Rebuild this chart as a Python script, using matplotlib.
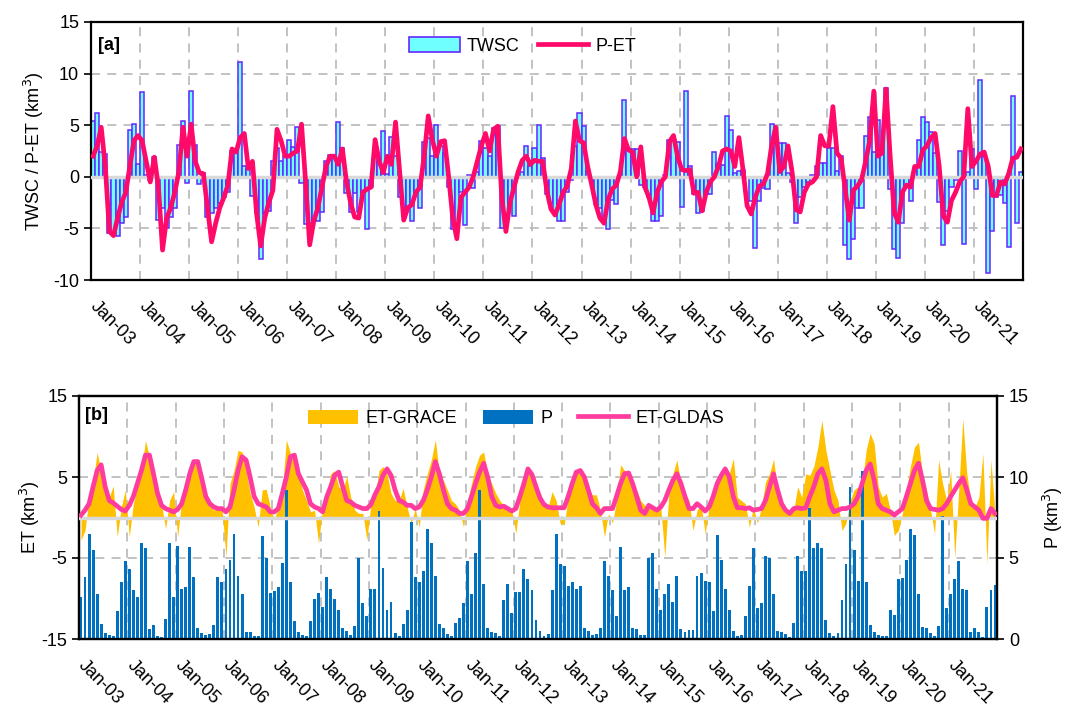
import matplotlib
matplotlib.use("Agg")
import matplotlib.pyplot as plt
import numpy as np
from matplotlib.patches import Patch
from matplotlib.lines import Line2D
from matplotlib.transforms import ScaledTranslation

plt.rcParams["font.family"] = ["Liberation Sans", "DejaVu Sans"]

# monthly values, Jan 2003 .. Dec 2021 (one row per year)
twsc = [
    5.4, 6.2, 2.4, 2.2, -5.4, -5.4, -5.7, -4.5, -3.9, 4.5, 5.1, 1.2,
    8.2, 0.2, -0.3, 1.9, -4.2, -3.0, -5.0, -3.9, -3.0, 3.1, 5.4, -0.6,
    8.3, 3.1, -0.7, 0.4, -3.9, -3.5, -3.0, -2.5, -2.0, -1.5, 2.5, 2.7,
    11.1, 1.0, 0.8, -1.9, -3.5, -8.0, -3.5, -3.3, 1.5, 2.8, 1.5, 2.0,
    3.6, 2.9, 4.8, -0.6, -4.6, -4.5, -4.2, -4.3, -3.4, 1.5, 2.1, 2.1,
    5.3, 2.8, -1.6, -3.4, -1.6, -3.4, -1.6, -5.1, -1.0, 1.9, 1.5, 4.4,
    0.3, 3.9, 2.0, -2.0, -3.0, -3.1, -4.3, -1.5, -3.0, 3.4, 3.8, 2.0,
    5.0, 3.0, 2.3, -1.0, -5.1, -4.5, -1.5, -4.7, 0.2, -1.1, 0.5, 3.5,
    2.8, 2.0, 4.7, 4.9, -5.0, -4.8, -2.5, -3.8, 0.2, 0.5, 3.0, 1.0,
    2.8, 5.0, 1.8, -1.7, -2.5, -3.5, -4.3, -4.3, -1.5, -0.3, 3.0, 6.2,
    4.9, 0.6, -0.5, -2.6, -3.0, -4.0, -5.1, -2.2, -2.6, 0.2, 7.4, 2.7,
    2.7, 2.7, -0.8, -1.0, -2.0, -4.3, -4.3, -3.8, 0.2, 3.6, 3.6, 3.4,
    -2.9, 8.3, 1.0, -1.7, -3.5, -3.3, -1.7, -1.7, 2.4, 1.2, 1.1, 5.9,
    4.5, 0.4, 0.6, 0.7, -0.1, -2.3, -6.9, -2.3, -1.1, -1.2, 5.1, 3.3,
    3.3, 3.3, 0.4, -0.5, -4.5, -2.0, -1.0, -0.5, 0.2, 1.0, 1.3, 1.3,
    2.8, 2.8, 0.6, 2.0, -6.6, -8.0, -6.0, -3.0, -3.0, 4.0, 5.8, 2.4,
    5.5, 2.2, 8.6, -1.2, -7.0, -7.9, -4.5, -1.0, -2.3, 0.8, 3.6, 5.8,
    5.3, 4.3, 2.3, -2.4, -6.6, -3.3, -1.0, -0.3, 2.5, -6.5, 0.5, 2.7,
    -1.2, 9.4, 2.0, -9.3, -5.3, -2.0, -1.8, -2.5, -6.8, 7.8, -4.5, 0.5,
]

p_et = [
    2.0, 3.0, 4.8, 1.0, -5.3, -5.7, -4.0, -2.5, -1.5, 1.0, 3.5, 4.0,
    3.5, 1.5, -0.5, 1.9, -1.0, -7.1, -4.0, -3.0, -1.5, 0.5, 4.8, 2.0,
    5.1, 1.5, 0.4, 0.3, -3.0, -6.3, -4.5, -3.0, -2.0, -0.8, 2.7, 2.4,
    3.8, 4.2, 0.8, 1.5, -3.5, -6.7, -4.0, -2.5, -1.3, 4.6, 3.5, 2.0,
    2.0, 2.3, 2.5, 5.1, -0.5, -6.6, -4.3, -3.0, -1.0, 1.0, 2.0, 2.0,
    1.2, 2.7, -0.5, -2.5, -3.9, -4.0, -1.5, -1.2, -1.0, 3.6, 1.5, 0.4,
    2.0, 1.2, 5.3, 0.5, -4.2, -3.0, -2.7, -1.5, -1.0, 2.0, 5.9, 3.6,
    2.0, 3.4, 3.5, 0.0, -4.0, -6.0, -2.0, -1.5, -1.0, 0.0, 1.5, 3.0,
    4.2, 2.5, 4.6, 4.9, -2.0, -5.3, -2.5, -1.0, 0.5, 1.6, 2.0, 1.2,
    1.6, 1.5, 1.5, -1.3, -3.1, -3.7, -2.7, -1.5, -0.9, 0.8, 5.4, 3.5,
    3.3, 1.0, -0.8, -2.7, -4.0, -4.5, -2.2, -1.2, -0.8, 0.5, 3.7, 2.6,
    2.4, 0.0, 2.9, -1.0, -2.0, -3.5, -1.5, -0.5, 0.0, 3.4, 4.0, 2.0,
    0.7, 0.6, 0.7, -1.6, -1.5, -3.3, -1.5, -0.5, 0.0, 1.0, 2.5, 2.7,
    2.5, 1.0, 3.8, 0.7, -2.8, -3.6, -2.0, -0.9, -0.7, 0.3, 3.0, 4.8,
    0.5, 1.0, 3.0, 0.5, -3.2, -3.4, -1.5, -0.7, -0.5, 0.0, 4.0, 3.0,
    3.0, 6.8, 2.3, 1.8, -1.2, -4.2, -1.3, -0.9, -0.3, 1.5, 3.5, 8.3,
    2.0, 2.3, 8.5, 2.0, -3.5, -4.4, -1.5, -0.8, -1.0, 1.0, 1.0, 2.6,
    3.0, 3.8, 4.2, 1.0, -3.8, -4.4, -2.3, -1.5, -0.5, 0.0, 6.6, 1.0,
    1.5, 2.2, 2.4, 1.0, -1.8, -1.8, -0.5, -0.7, 0.3, 1.8, 1.9, 2.7,
]

precip = [
    2.57, 3.8, 6.5, 5.5, 2.8, 0.9, 0.4, 0.25, 0.2, 1.75, 3.5, 4.8,
    4.3, 3.0, 2.6, 5.9, 5.6, 0.6, 0.85, 0.2, 0.15, 1.25, 5.9, 2.6,
    5.75, 3.1, 3.2, 5.7, 3.8, 0.7, 0.4, 0.25, 0.3, 0.85, 3.8, 3.5,
    4.3, 4.9, 6.5, 3.9, 2.8, 0.45, 0.45, 0.2, 0.2, 6.35, 5.0, 2.85,
    2.95, 3.2, 4.7, 9.2, 3.5, 1.1, 0.45, 0.25, 0.2, 1.1, 2.5, 2.85,
    2.0, 3.8, 3.1, 2.45, 1.8, 0.65, 0.5, 0.25, 0.8, 5.0, 2.2, 1.4,
    3.1, 3.1, 7.9, 4.4, 1.8, 2.3, 0.4, 0.2, 0.9, 1.8, 7.2, 3.8,
    3.5, 4.2, 6.8, 5.9, 3.9, 0.9, 0.7, 0.3, 0.2, 1.0, 1.3, 2.2,
    4.8, 2.8, 5.3, 9.2, 3.4, 0.7, 0.45, 0.35, 0.2, 2.4, 3.4, 1.6,
    2.9, 2.9, 4.3, 3.7, 3.0, 1.2, 0.5, 0.2, 0.3, 3.0, 6.5, 4.6,
    4.5, 3.3, 3.5, 3.1, 3.3, 0.7, 0.5, 0.25, 0.3, 0.7, 4.8, 3.9,
    3.0, 1.4, 5.7, 3.0, 3.2, 0.65, 0.6, 0.25, 0.25, 5.0, 5.3, 3.1,
    1.8, 2.8, 3.4, 2.3, 3.9, 0.6, 0.45, 0.55, 0.55, 3.9, 4.1, 3.6,
    3.5, 1.7, 6.4, 4.9, 3.1, 1.8, 0.5, 0.2, 0.25, 1.4, 3.3, 5.6,
    1.9, 2.2, 5.1, 5.0, 2.8, 0.5, 0.45, 0.3, 0.15, 1.0, 5.1, 4.2,
    4.2, 8.1, 5.6, 5.9, 5.6, 1.2, 0.4, 0.2, 0.35, 2.4, 4.6, 9.4,
    5.5, 3.6, 10.4, 3.5, 0.85, 0.45, 0.25, 0.2, 0.2, 1.8, 1.5, 3.7,
    3.75, 4.9, 6.8, 6.4, 2.8, 0.75, 0.7, 0.4, 0.2, 0.8, 7.6, 1.9,
    2.8, 3.7, 4.8, 3.1, 3.0, 0.45, 0.7, 0.45, 0.15, 2.0, 3.0, 3.35,
]

et_grace = [
    -2.8, -1.6, 2.5, 4.6, 8.0, 5.8, 3.4, 2.5, 3.9, -2.4, 1.3, 3.4,
    -2.4, 1.7, 3.8, 5.8, 9.5, 7.5, 5.4, 3.4, 1.7, -1.4, 2.1, 3.2,
    -2.4, 2.1, 3.8, 5.8, 7.3, 6.3, 5.0, 2.5, 1.5, 0.9, 1.3, 1.3,
    -4.9, 4.2, 5.8, 8.3, 8.1, 5.8, 3.0, 1.3, -1.2, 3.4, 3.5, 1.3,
    -0.3, 1.3, 3.4, 9.6, 7.9, 7.5, 5.4, 3.4, 2.1, 0.7, 0.9, -3.2,
    1.3, 2.5, 5.4, 5.8, 3.8, 3.4, 5.1, 2.5, 0.9, 0.5, 0.5, -2.8,
    1.7, 2.5, 5.8, 6.3, 5.4, 3.0, 2.1, 2.1, 3.6, 1.3, -0.7, 1.1,
    -1.2, 3.4, 5.4, 7.1, 9.6, 5.4, 4.6, 3.4, 2.1, 1.7, 0.9, -1.2,
    2.1, 4.2, 6.3, 7.7, 8.1, 5.4, 4.2, 3.0, 2.1, 1.5, 1.3, 0.9,
    -2.0, 2.1, 4.2, 5.8, 5.4, 4.0, 3.0, 1.7, 1.3, 3.2, 2.1, -0.7,
    -0.9, 2.5, 4.6, 5.8, 5.8, 4.6, 3.6, 2.8, 2.8, 0.9, -2.4, 0.5,
    -0.7, 2.1, 6.5, 5.8, 5.0, 3.8, 3.4, 2.1, 1.5, 1.3, 0.9, 1.1,
    1.3, -4.9, 3.0, 5.4, 7.1, 4.2, 3.0, 2.1, -1.6, 0.9, 1.7, -2.0,
    1.3, 3.4, 5.0, 5.4, 5.8, 5.4, 7.3, 2.5, 2.1, 1.7, -1.2, 1.3,
    -0.7, 1.3, 4.4, 5.4, 7.2, 3.4, 1.7, 0.9, 0.5, 0.9, 3.8, 2.5,
    5.4, 5.2, 6.3, 8.7, 12.0, 8.3, 5.8, 3.4, 2.1, -1.6, -0.7, 2.1,
    3.4, 3.8, 4.2, 8.3, 10.4, 9.1, 3.8, 2.5, 3.0, 0.9, -2.2, -1.6,
    0.5, 3.4, 6.3, 8.7, 9.3, 5.4, 3.4, 0.9, -2.0, 7.1, 4.2, 2.1,
    5.8, -4.9, 3.4, 12.2, 5.4, 2.1, 1.3, 2.5, 7.9, -5.7, 7.1, 0.5,
]

et_gldas = [
    0.3, 0.9, 1.7, 3.8, 5.8, 6.5, 3.8, 2.1, 1.8, 1.4, 1.0, 0.8,
    1.5, 2.6, 4.2, 5.8, 7.7, 7.7, 5.4, 3.0, 1.5, 1.1, 0.9, 0.7,
    1.0, 1.7, 3.4, 5.4, 6.9, 6.9, 4.8, 2.6, 1.7, 1.3, 1.1, 1.1,
    0.7, 1.3, 3.4, 5.8, 7.5, 7.1, 5.0, 2.6, 1.7, 1.5, 1.3, 0.7,
    0.7, 1.1, 3.0, 5.0, 7.5, 7.7, 5.4, 4.4, 3.4, 1.7, 1.3, 1.1,
    0.7, 2.5, 3.8, 5.2, 5.6, 3.8, 2.1, 1.9, 1.5, 1.3, 1.1, 1.1,
    1.6, 2.8, 3.8, 5.2, 6.0, 5.2, 3.4, 2.1, 1.9, 1.5, 1.5, 1.1,
    1.3, 2.1, 3.4, 5.0, 6.9, 5.4, 3.4, 1.7, 1.1, 0.9, 0.5, 0.5,
    1.1, 2.6, 4.2, 5.6, 6.7, 5.0, 2.6, 1.5, 1.3, 1.4, 1.1, 0.8,
    1.1, 2.6, 4.2, 6.0, 5.3, 3.8, 2.4, 1.6, 1.3, 1.2, 1.2, 1.2,
    1.2, 2.6, 4.2, 5.6, 5.8, 5.0, 3.4, 1.7, 1.2, 0.5, 1.1, 1.1,
    1.1, 2.6, 4.2, 5.4, 5.5, 4.2, 2.6, 0.9, 0.5, 1.5, 1.2, 0.9,
    1.3, 2.1, 3.4, 4.6, 5.4, 4.2, 2.6, 1.1, 1.1, 1.7, 1.3, 0.8,
    1.3, 2.6, 4.2, 5.2, 6.0, 5.0, 2.6, 1.2, 1.2, 1.1, 1.2, 0.9,
    1.0, 1.1, 2.1, 3.8, 5.4, 3.4, 1.7, 0.9, 0.5, 1.1, 1.2, 1.1,
    1.2, 2.6, 3.8, 5.4, 6.0, 4.6, 1.7, 0.7, 0.9, 1.1, 1.1, 1.3,
    1.7, 2.6, 4.2, 5.8, 6.6, 4.6, 1.7, 1.1, 0.9, 0.7, 0.3, 0.7,
    1.1, 2.6, 4.2, 5.8, 6.7, 4.6, 2.1, 1.1, 1.0, 0.9, 1.1, 1.7,
    2.6, 3.4, 4.2, 4.9, 3.4, 1.7, 1.3, 0.9, -0.1, -0.1, 1.1, 0.5,
]

years = list(range(2003, 2022))
tick_labels = [f"Jan-{y % 100:02d}" for y in years]

C_TWSC_FACE = "#6FFFFF"
C_TWSC_EDGE = "#6427FF"
C_PET = "#FF0A68"
C_GRACE = "#FFC000"
C_P = "#0070C0"
C_GLDAS = "#FF3C9E"
C_GRID = "#BDBDBD"
C_ZERO = "#D9D9D9"

FS = 13
n = len(twsc)
x = np.arange(n) + 0.5
xmax = 12 * len(years)

fig = plt.figure(figsize=(10.7, 7.09), dpi=100)


def style_xaxis(ax):
    ax.set_xlim(0, xmax)
    ax.set_xticks(np.arange(0, 12 * len(years), 12))
    ax.set_xticklabels(tick_labels, rotation=-45, ha="left", va="top",
                       rotation_mode="anchor", fontsize=FS)
    ax.tick_params(axis="x", length=0, pad=13)
    shift = ScaledTranslation(6 / 72, 0, fig.dpi_scale_trans)
    for lab in ax.get_xticklabels():
        lab.set_transform(lab.get_transform() + shift)
    for t in np.arange(12, xmax, 12):
        ax.axvline(t, color=C_GRID, lw=1.3, ls=(0, (5, 4)), zorder=0.5)


# ---------------- panel a ----------------
ax_a = fig.add_axes([91 / 1070, 1 - 280 / 709, 932 / 1070, 258 / 709])
style_xaxis(ax_a)
ax_a.set_ylim(-10, 15)
ax_a.set_yticks([-10, -5, 0, 5, 10, 15])
ax_a.set_yticklabels(["-10", "-5", "0", "5", "10", "15"], fontsize=FS)
ax_a.tick_params(axis="y", direction="out", length=5, width=1.2)
for yv in [-5, 5, 10]:
    ax_a.axhline(yv, color=C_GRID, lw=1.3, ls=(0, (5, 4)), zorder=0.5)

ax_a.bar(x, twsc, width=1.0, color=C_TWSC_FACE, edgecolor=C_TWSC_EDGE,
         linewidth=1.1, zorder=2)
ax_a.axhline(0, color=C_ZERO, lw=2.5, zorder=3)
ax_a.plot(x, p_et, color=C_PET, lw=3.4, zorder=4, solid_joinstyle="round")

ax_a.set_ylabel("TWSC / P-ET (km$^3$)", fontsize=FS)
ax_a.yaxis.set_label_coords(-0.048, 0.5)
ax_a.text(0.008, 0.94, "[a]", transform=ax_a.transAxes, fontsize=FS,
          fontweight="bold", va="top", ha="left")
for s in ax_a.spines.values():
    s.set_linewidth(1.6)

leg_a = [Patch(facecolor=C_TWSC_FACE, edgecolor=C_TWSC_EDGE, lw=1.2, label="TWSC"),
         Line2D([0], [0], color=C_PET, lw=3.4, label="P-ET")]
ax_a.legend(handles=leg_a, loc="upper center", bbox_to_anchor=(0.463, 1.005),
            ncol=2, frameon=False, fontsize=FS, handlelength=2.8,
            handleheight=0.9, columnspacing=1.0, handletextpad=0.4)

# ---------------- panel b ----------------
ax_b = fig.add_axes([79 / 1070, 1 - 639 / 709, 918 / 1070, 243 / 709])
style_xaxis(ax_b)
ax_b.set_ylim(-15, 15)
ax_b.set_yticks([-15, -5, 5, 15])
ax_b.set_yticklabels(["-15", "-5", "5", "15"], fontsize=FS)
ax_b.tick_params(axis="y", direction="out", length=5, width=1.2)
for yv in [-5, 5]:
    ax_b.axhline(yv, color=C_GRID, lw=1.3, ls=(0, (5, 4)), zorder=0.5)

ax_b.fill_between(x, 0, et_grace, color=C_GRACE, lw=0, zorder=1)

ax_p = ax_b.twinx()
ax_p.set_yticks([0, 5, 10, 15])
ax_p.set_yticklabels(["0", "5", "10", "15"], fontsize=FS)
ax_p.tick_params(axis="y", direction="out", length=5, width=1.2)
ax_p.bar(x, precip, width=0.72, color=C_P, lw=0, zorder=2)
# zero line and GLDAS line use the ET scale but sit above the P bars
ax_p.plot([0, xmax], [0, 0], color=C_ZERO, lw=2.5, zorder=3,
          transform=ax_b.transData)
ax_p.plot(x, et_gldas, color=C_GLDAS, lw=3.4, zorder=4,
          transform=ax_b.transData, solid_joinstyle="round")
ax_p.set_xlim(0, xmax)
ax_p.set_ylim(0, 15)

ax_b.set_ylabel("ET (km$^3$)", fontsize=FS)
ax_b.yaxis.set_label_coords(-0.040, 0.5)
ax_p.set_ylabel("P (km$^3$)", fontsize=FS)
ax_p.yaxis.set_label_coords(1.048, 0.5)
ax_b.text(0.006, 0.955, "[b]", transform=ax_b.transAxes, fontsize=FS,
          fontweight="bold", va="top", ha="left")
for s in list(ax_b.spines.values()) + list(ax_p.spines.values()):
    s.set_linewidth(1.6)

leg_b = [Patch(facecolor=C_GRACE, label="ET-GRACE"),
         Patch(facecolor=C_P, label="P"),
         Line2D([0], [0], color=C_GLDAS, lw=3.4, label="ET-GLDAS")]
ax_p.legend(handles=leg_b, loc="upper center", bbox_to_anchor=(0.476, 1.01),
            ncol=3, frameon=False, fontsize=FS, handlelength=2.8,
            handleheight=0.8, columnspacing=1.4, handletextpad=0.4)

fig.savefig("out.png", dpi=100)
